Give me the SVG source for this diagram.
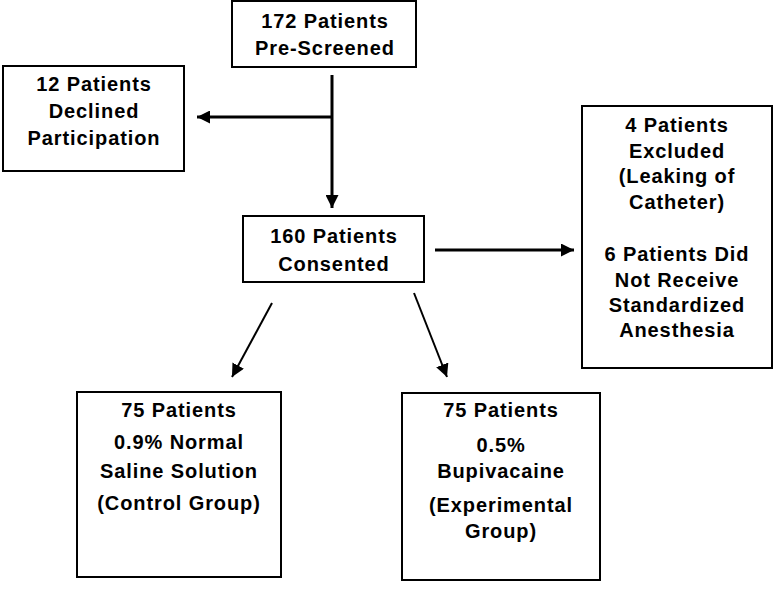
<svg xmlns="http://www.w3.org/2000/svg" width="774" height="590" viewBox="0 0 774 590">
<defs>
<style>
.box{fill:#fff;stroke:#000;stroke-width:2}
.t{font-family:"Liberation Sans",Arial,sans-serif;font-weight:bold;font-size:20px;letter-spacing:0.9px;text-anchor:middle;fill:#000}
.c{fill:none;stroke:#000;stroke-width:3}
.d{fill:none;stroke:#000;stroke-width:2}
</style>
<marker id="ah" viewBox="0 0 10 10" refX="10" refY="5" markerWidth="13" markerHeight="13" markerUnits="userSpaceOnUse" orient="auto">
<path d="M0,0 L10,5 L0,10 Z" fill="#000"/>
</marker>
</defs>
<rect width="774" height="590" fill="#fff"/>
<g id="connectors">
<line class="c" x1="332" y1="75" x2="332" y2="208" marker-end="url(#ah)"/>
<line class="c" x1="332" y1="117" x2="197" y2="117" marker-end="url(#ah)"/>
<line class="c" x1="435" y1="250" x2="574" y2="250" marker-end="url(#ah)"/>
<line class="d" x1="272" y1="303" x2="232" y2="377" marker-end="url(#ah)"/>
<line class="d" x1="414" y1="293" x2="447" y2="377" marker-end="url(#ah)"/>
</g>
<g id="prescreened">
<rect class="box" x="232" y="1" width="184" height="66"/>
<text class="t" x="325" y="28">172 Patients</text>
<text class="t" x="325" y="55">Pre-Screened</text>
</g>
<g id="declined">
<rect class="box" x="3" y="66" width="181" height="105"/>
<text class="t" x="94" y="91">12 Patients</text>
<text class="t" x="94" y="118">Declined</text>
<text class="t" x="94" y="145">Participation</text>
</g>
<g id="consented">
<rect class="box" x="243" y="216" width="181" height="66"/>
<text class="t" x="334" y="243">160 Patients</text>
<text class="t" x="334" y="271">Consented</text>
</g>
<g id="excluded">
<rect class="box" x="582" y="106" width="190" height="262"/>
<text class="t" x="677" y="132">4 Patients</text>
<text class="t" x="677" y="158">Excluded</text>
<text class="t" x="677" y="183">(Leaking of</text>
<text class="t" x="677" y="209">Catheter)</text>
<text class="t" x="677" y="261">6 Patients Did</text>
<text class="t" x="677" y="287">Not Receive</text>
<text class="t" x="677" y="312">Standardized</text>
<text class="t" x="677" y="337">Anesthesia</text>
</g>
<g id="control">
<rect class="box" x="77" y="392" width="204" height="185"/>
<text class="t" x="179" y="417">75 Patients</text>
<text class="t" x="179" y="449">0.9% Normal</text>
<text class="t" x="179" y="478">Saline Solution</text>
<text class="t" x="179" y="510">(Control Group)</text>
</g>
<g id="experimental">
<rect class="box" x="402" y="393" width="198" height="187"/>
<text class="t" x="501" y="417">75 Patients</text>
<text class="t" x="501" y="452">0.5%</text>
<text class="t" x="501" y="478">Bupivacaine</text>
<text class="t" x="501" y="512">(Experimental</text>
<text class="t" x="501" y="538">Group)</text>
</g>
</svg>
